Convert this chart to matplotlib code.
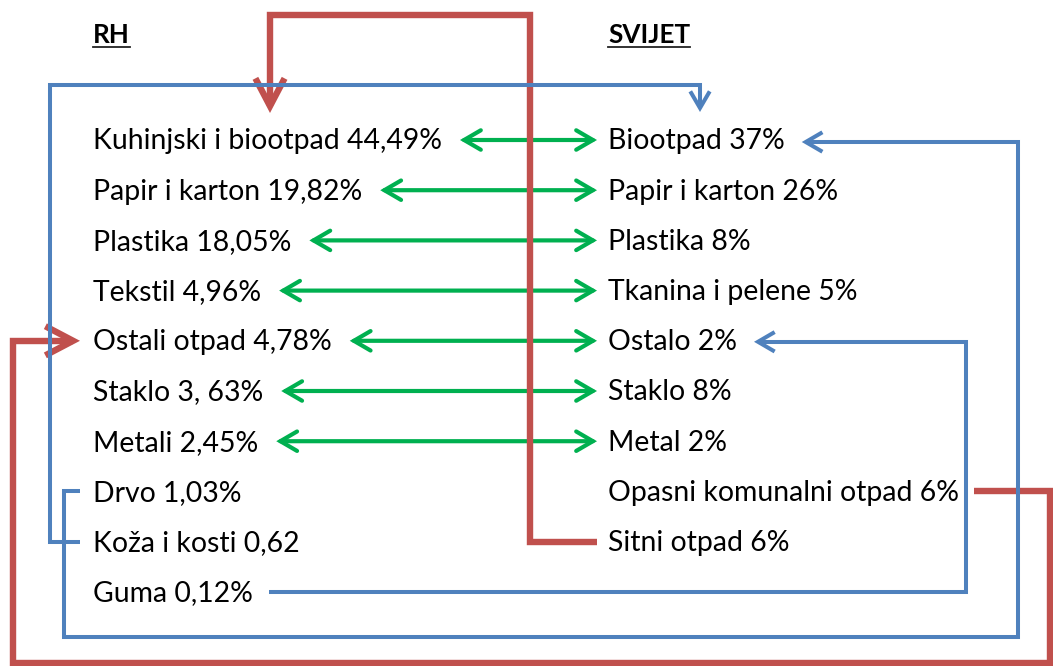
import matplotlib
matplotlib.use("Agg")
import matplotlib.pyplot as plt
from matplotlib.patches import FancyArrowPatch
from matplotlib.path import Path

plt.rcParams['font.family'] = ['Lato', 'DejaVu Sans']

rh_title = "RH"
svijet_title = "SVIJET"
rh_labels = ["Kuhinjski i biootpad 44,49%", "Papir i karton 19,82%", "Plastika 18,05%",
             "Tekstil 4,96%", "Ostali otpad 4,78%", "Staklo 3, 63%", "Metali 2,45%",
             "Drvo 1,03%", "Koža i kosti 0,62", "Guma 0,12%"]
svijet_labels = ["Biootpad 37%", "Papir i karton 26%", "Plastika 8%", "Tkanina i pelene 5%",
                 "Ostalo 2%", "Staklo 8%", "Metal 2%", "Opasni komunalni otpad 6%",
                 "Sitni otpad 6%"]
# green two-way links: same row index on both sides
pairs = [0, 1, 2, 3, 4, 5, 6]

GREEN = "#00B050"
RED = "#C0504D"
BLUE = "#4F81BD"

W, H = 1053, 666
fig = plt.figure(figsize=(W / 100, H / 100), dpi=100)
ax = fig.add_axes([0, 0, 1, 1])
ax.set_xlim(0, W)
ax.set_ylim(H, 0)
ax.axis('off')

xl, xr = 93, 608
fs = 20.4


def row(i):
    return 140 + 50.2 * i


left_txt = [ax.text(xl, row(i) + 9.5, s, fontsize=fs, va='baseline') for i, s in enumerate(rh_labels)]
right_txt = [ax.text(xr, row(i) + 9.5, s, fontsize=fs, va='baseline') for i, s in enumerate(svijet_labels)]
h1 = ax.text(xl, 43, rh_title, fontsize=18.8, fontweight='bold', va='baseline')
h2 = ax.text(xr, 43, svijet_title, fontsize=18.8, fontweight='bold', va='baseline')

fig.canvas.draw()
r = fig.canvas.get_renderer()


def x_end(t):
    return t.get_window_extent(r).x1


# underlines of headers
for t in (h1, h2):
    bb = t.get_window_extent(r)
    ax.plot([bb.x0, bb.x1], [47, 47], color='#222222', lw=1.3)

# green arrows
for i in pairs:
    a = FancyArrowPatch((x_end(left_txt[i]) + 18, row(i)), (xr - 11, row(i)),
                        arrowstyle='<->,head_length=12,head_width=7', mutation_scale=1,
                        lw=3, color=GREEN, shrinkA=0, shrinkB=0, joinstyle='miter')
    ax.add_patch(a)


def connector(pts, color, lw, hl, hw):
    codes = [Path.MOVETO] + [Path.LINETO] * (len(pts) - 1)
    p = FancyArrowPatch(path=Path(pts, codes),
                        arrowstyle='->,head_length=%g,head_width=%g' % (hl, hw),
                        mutation_scale=1, lw=lw, color=color, joinstyle='miter',
                        capstyle='butt')
    ax.add_patch(p)


# red connectors
connector([(xr - 11, row(8)), (530, row(8)), (530, 15), (270, 15), (270, 113)], RED, 4.6, 20, 10.5)
connector([(x_end(right_txt[7]) + 15, row(7)), (1050, row(7)), (1050, 663), (13, 663),
           (13, row(4)), (80, row(4))], RED, 4.6, 20, 10.5)

# blue connectors
connector([(80, row(8)), (50, row(8)), (50, 85), (700, 85), (700, 112)], BLUE, 2.9, 12, 7)
connector([(80, row(7)), (64, row(7)), (64, 637), (1018, 637), (1018, row(0) + 2),
           (x_end(right_txt[0]) + 17, row(0) + 2)], BLUE, 2.9, 12, 7)
connector([(x_end(left_txt[9]) + 16, row(9)), (966, row(9)), (966, row(4) + 1),
           (x_end(right_txt[4]) + 17, row(4) + 1)], BLUE, 2.9, 12, 7)

fig.savefig('out.png', dpi=100, facecolor='white')
